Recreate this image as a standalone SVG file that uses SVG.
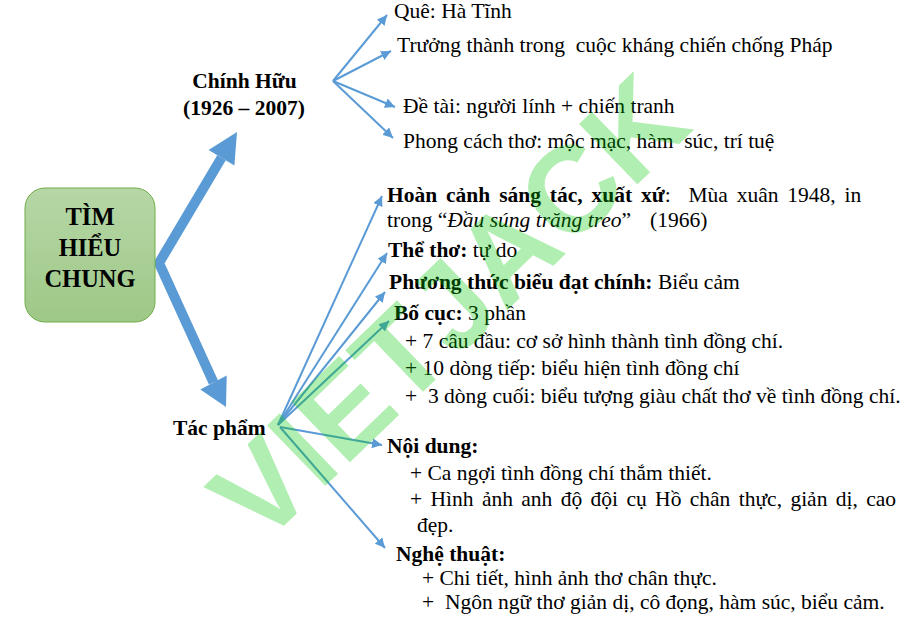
<svg xmlns="http://www.w3.org/2000/svg" width="916" height="626" viewBox="0 0 916 626">
<defs>
  <linearGradient id="gbox" x1="0" y1="0" x2="0" y2="1">
    <stop offset="0" stop-color="#b6d7a6"/>
    <stop offset="1" stop-color="#9ec887"/>
  </linearGradient>
  <marker id="ah" viewBox="0 0 10 10" refX="10" refY="5" markerWidth="5" markerHeight="5" orient="auto">
    <path d="M0,0 L10,5 L0,10 z" fill="#5b9bd5"/>
  </marker>
  <style>
    text { font-family: "Liberation Serif", "Times New Roman", serif; font-size: 21.5px; fill: #000; }
    .b { font-weight: bold; }
    .i { font-style: italic; }
    .thin { stroke: #5b9bd5; stroke-width: 2; fill: none; marker-end: url(#ah); }
    .wm { font-family: "Liberation Sans", Arial, sans-serif; font-weight: bold; font-size: 122px; fill: #00c800; opacity: 0.3; }
  </style>
</defs>
<rect width="916" height="626" fill="#fff"/>

<g id="connectors">
  <polyline points="221.5,157.7 159,263 213.5,382.5" fill="none" stroke="#5b9bd5" stroke-width="10" stroke-linejoin="miter"/>
  <polygon points="237,132 234.4,165.4 208.6,150" fill="#5b9bd5"/>
  <polygon points="226,407 226.7,375.6 200.3,389.4" fill="#5b9bd5"/>
  <line class="thin" x1="333" y1="81" x2="387" y2="15"/>
  <line class="thin" x1="333" y1="81" x2="391" y2="51"/>
  <line class="thin" x1="333" y1="81" x2="395" y2="107"/>
  <line class="thin" x1="333" y1="81" x2="393" y2="138"/>
  <line class="thin" x1="278" y1="425" x2="382" y2="196"/>
  <line class="thin" x1="278" y1="425" x2="387" y2="253"/>
  <line class="thin" x1="278" y1="425" x2="385" y2="292"/>
  <line class="thin" x1="278" y1="425" x2="389" y2="321"/>
  <line class="thin" x1="280" y1="427" x2="382" y2="445"/>
  <line class="thin" x1="280" y1="427" x2="385" y2="548"/>
</g>

<g id="root">
  <rect x="25" y="188" width="130" height="134" rx="20" ry="20" fill="url(#gbox)" stroke="#70ad47" stroke-width="1"/>
  <text class="b" x="90" y="225" text-anchor="middle" style="font-size:24.5px">TÌM</text>
  <text class="b" x="90" y="256" text-anchor="middle" style="font-size:24.5px">HIỂU</text>
  <text class="b" x="90" y="287" text-anchor="middle" style="font-size:24.5px">CHUNG</text>
</g>

<g id="chinh-huu">
  <text class="b" x="244.5" y="88" text-anchor="middle">Chính Hữu</text>
  <text class="b" x="244" y="115" text-anchor="middle">(1926 – 2007)</text>
</g>

<g id="que"><text x="394" y="18">Quê: Hà Tĩnh</text></g>
<g id="truong-thanh"><text x="397" y="52" xml:space="preserve">Trưởng thành trong  cuộc kháng chiến chống Pháp</text></g>
<g id="de-tai"><text x="403" y="113">Đề tài: người lính + chiến tranh</text></g>
<g id="phong-cach"><text x="403" y="148" xml:space="preserve">Phong cách thơ: mộc mạc, hàm  súc, trí tuệ</text></g>

<g id="tac-pham"><text class="b" x="173" y="435">Tác phẩm</text></g>

<g id="hoan-canh">
  <text x="387" y="202" xml:space="preserve" word-spacing="3.5"><tspan class="b">Hoàn cảnh sáng tác, xuất xứ</tspan>:  Mùa xuân 1948, in</text>
  <text x="387" y="227" xml:space="preserve">trong “<tspan class="i">Đầu súng trăng treo</tspan>”  <tspan x="650">(1966)</tspan></text>
</g>
<g id="the-tho"><text x="388" y="257"><tspan class="b">Thể thơ:</tspan> tự do</text></g>
<g id="phuong-thuc"><text x="389" y="289"><tspan class="b">Phương thức biểu đạt chính:</tspan> Biểu cảm</text></g>
<g id="bo-cuc">
  <text x="394" y="320"><tspan class="b">Bố cục:</tspan> 3 phần</text>
  <text x="405" y="348">+ 7 câu đầu: cơ sở hình thành tình đồng chí.</text>
  <text x="405" y="375">+ 10 dòng tiếp: biểu hiện tình đồng chí</text>
  <text x="405" y="403" xml:space="preserve">+  3 dòng cuối: biểu tượng giàu chất thơ về tình đồng chí.</text>
</g>
<g id="noi-dung">
  <text class="b" x="387" y="453">Nội dung:</text>
  <text x="410" y="480">+ Ca ngợi tình đồng chí thắm thiết.</text>
  <text x="410" y="506" word-spacing="3">+ Hình ảnh anh độ đội cụ Hồ chân thực, giản dị, cao</text>
  <text x="417" y="532">đẹp.</text>
</g>
<g id="nghe-thuat">
  <text class="b" x="396" y="561">Nghệ thuật:</text>
  <text x="422" y="585">+ Chi tiết, hình ảnh thơ chân thực.</text>
  <text x="422" y="609" xml:space="preserve">+  Ngôn ngữ thơ giản dị, cô đọng, hàm súc, biểu cảm.</text>
</g>

<text class="wm" transform="translate(261,548) rotate(-44)">VIETJACK</text>
</svg>
